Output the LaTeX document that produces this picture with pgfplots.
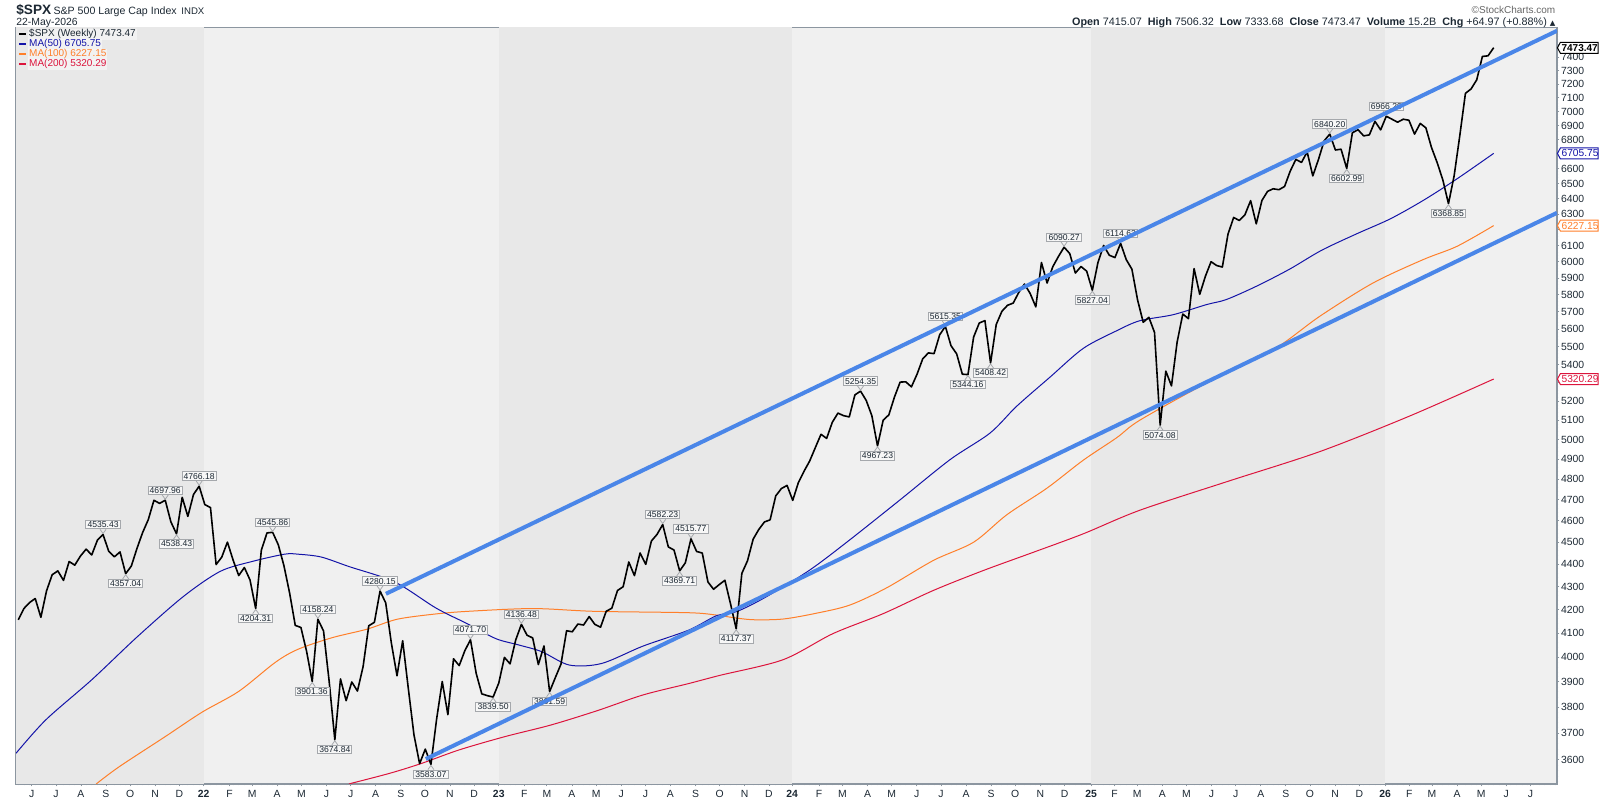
\documentclass[border=0pt]{standalone}
\usepackage{pgfplots}
\pgfplotsset{compat=1.18}
\usepackage{fontspec}
\setmainfont{Liberation Sans}
\newfontfamily\dejavu{DejaVu Sans}
\definecolor{bandD}{HTML}{E8E8E8}
\definecolor{bandL}{HTML}{F0F0F0}
\definecolor{frame}{HTML}{8C96A0}
\definecolor{ma50}{RGB}{20,20,168}
\definecolor{ma100}{RGB}{255,127,42}
\definecolor{ma200}{RGB}{220,20,60}
\definecolor{trend}{RGB}{74,134,232}
\definecolor{txt}{HTML}{1C2833}
\definecolor{lblb}{HTML}{A5A8AC}
\definecolor{lblf}{HTML}{F7F7F7}
\newcommand{\fs}[1]{\fontsize{#1}{#1}\selectfont}
\tikzset{lbl/.style={draw=lblb, fill=lblf, line width=0.5pt, inner xsep=0.8pt, inner ysep=0.6pt, font=\fs{4.3}, text=txt}}
\newcommand{\pk}[3]{\node[lbl,anchor=south] (L) at ([yshift=2.6pt]axis cs:#1,#2) {#3};
 \draw[lblb,line width=0.4pt] ([xshift=-1.5pt]L.south) -- ([yshift=0.5pt]axis cs:#1,#2) -- ([xshift=1.5pt]L.south);}
\newcommand{\tr}[3]{\node[lbl,anchor=north] (L) at ([yshift=-2.6pt]axis cs:#1,#2) {#3};
 \draw[lblb,line width=0.4pt] ([xshift=-1.5pt]L.north) -- ([yshift=-0.5pt]axis cs:#1,#2) -- ([xshift=1.5pt]L.north);}
\newcommand{\vtag}[4]{%
 \draw[#2, fill=white, line width=0.5pt] ([xshift=0.2pt]#1) -- ++(1.5pt,2.75pt) -- ++(18.8pt,0) -- ++(0,-5.5pt) -- ++(-18.8pt,0) -- cycle;
 \node[anchor=west, inner sep=0pt, text=#2, font=#4] at ([xshift=2.1pt]#1) {#3};}
\begin{document}
\begin{tikzpicture}
\useasboundingbox (-8pt,-8pt) rectangle (792pt,392pt);
\begin{axis}[
 at={(0pt,0pt)}, anchor=south west,
 scale only axis, width=770.5pt, height=378pt,
 xmin=19.6, xmax=292.2, ymin=3512, ymax=7628,
 ymode=log,
 axis line style={draw=frame, line width=0.6pt},
 axis background/.style={fill=bandL},
 xtick pos=left, ytick pos=right, yticklabel pos=right,
 tick align=outside,
 major tick length=1.2pt, minor tick length=0.7pt,
 tick style={draw=frame, line width=0.4pt},
 xtick={22.37,26.66,31.09,35.51,39.8,44.23,48.51,
 52.8,57.37,61.37,65.8,70.09,74.51,78.8,83.23,87.66,91.94,96.37,100.66,
 105.0,109.51,113.51,117.94,122.23,126.66,130.94,135.37,139.8,144.09,148.51,152.8,
 156.9,161.66,165.8,170.23,174.51,178.94,183.23,187.66,192.09,196.37,200.8,205.09,
 209.8,213.94,217.94,222.37,226.66,231.09,235.37,239.8,244.23,248.51,252.94,257.23,
 261.8,266.09,270.09,274.51,278.8,283.23,287.51},
 xticklabels={J,J,A,S,O,N,D,
 \textbf{22},F,M,A,M,J,J,A,S,O,N,D,
 \textbf{23},F,M,A,M,J,J,A,S,O,N,D,
 \textbf{24},F,M,A,M,J,J,A,S,O,N,D,
 \textbf{25},F,M,A,M,J,J,A,S,O,N,D,
 \textbf{26},F,M,A,M,J,J},
 minor xtick={20,21,...,292},
 ytick={3600,3700,3800,3900,4000,4100,4200,4300,4400,4500,4600,4700,4800,4900,5000,5100,5200,5300,5400,5500,5600,5700,5800,5900,6000,6100,6200,6300,6400,6500,6600,6700,6800,6900,7000,7100,7200,7300,7400,7500},
 yticklabels={3600,3700,3800,3900,4000,4100,4200,4300,4400,4500,4600,4700,4800,4900,5000,5100,5200,{},5400,5500,5600,5700,5800,5900,6000,6100,{},6300,6400,6500,6600,{},6800,6900,7000,7100,7200,7300,7400,{}},
 minor ytick={3520,3540,...,7620},
 xticklabel style={font=\fs{5.2}, text=txt, inner sep=0pt, yshift=-1.6pt},
 yticklabel style={font=\fs{5.2}, text=txt, inner sep=0pt, anchor=west, xshift=0.6pt},
 clip=true,
]
% year bands
\addplot[draw=none, fill=bandD, forget plot] coordinates {(10,3400) (10,7800) (52.8,7800) (52.8,3400)} -- cycle;
\addplot[draw=none, fill=bandD, forget plot] coordinates {(105.0,3400) (105.0,7800) (156.9,7800) (156.9,3400)} -- cycle;
\addplot[draw=none, fill=bandD, forget plot] coordinates {(209.8,3400) (209.8,7800) (261.8,7800) (261.8,3400)} -- cycle;
% MA(200)
\addplot[ma200, line width=0.5pt, smooth, forget plot] coordinates {
(78.5,3512) (85.8,3551) (91.5,3588) (98,3637) (106.1,3687) (114.2,3731) (122.4,3786) (130.5,3848) (138.6,3893) (144.1,3926) (155.3,3990) (164.1,4097) (173,4182) (181.9,4283) (190.7,4371) (199.6,4454) (208.4,4539) (218.4,4650) (234,4790) (250.2,4938) (266,5120) (281,5320)};
% MA(100)
\addplot[ma100, line width=0.5pt, smooth, forget plot] coordinates {
(33.8,3512) (37.9,3575) (46,3687) (52.5,3780) (59,3862) (65.5,3979) (69.5,4032) (75.5,4080) (81.7,4116) (87,4158) (93.6,4180) (99.5,4192) (111,4204) (122,4192) (138.6,4186) (143.5,4176) (146.5,4165) (150,4156) (155.3,4159) (161.2,4184) (167.1,4219) (173.6,4294) (181.9,4417) (189,4500) (194.9,4629) (202,4757) (208.4,4895) (214.3,5009) (218.4,5100) (230.2,5298) (242,5482) (250.2,5673) (259.6,5870) (268.5,6013) (274.5,6096) (281,6227)};
% MA(50)
\addplot[ma50, line width=0.5pt, smooth, forget plot] coordinates {
(19.6,3624) (24.9,3751) (33,3908) (41.1,4085) (49.2,4256) (55.7,4367) (61.4,4412) (67.1,4445) (69.5,4445) (73.6,4432) (78.5,4389) (86.6,4320) (93.9,4206) (99.6,4137) (104.5,4076) (108.5,4050) (112.6,4022) (117.5,3968) (123.2,3974) (130.5,4045) (138.6,4112) (143.5,4173) (147.1,4191) (152.4,4256) (160.1,4375) (167.1,4511) (176,4700) (184.8,4897) (191.9,5033) (196.6,5173) (202.5,5330) (208.4,5490) (214.3,5590) (218.4,5648) (224.3,5683) (230.2,5742) (233.7,5772) (239,5851) (244.9,5955) (250.5,6070) (256.7,6174) (262.7,6270) (268.5,6389) (274.5,6533) (281,6706)};
% SPX weekly
\addplot[black, line width=0.8pt, line join=round, forget plot] coordinates {
(20,4155.86)(21,4204.11)(22,4229.89)(23,4247.44)(24,4166.45)(25,4280.70)(26,4352.34)(27,4369.55)(28,4327.16)(29,4411.79)(30,4395.26)(31,4436.52)(32,4468.00)(33,4441.67)(34,4509.37)(35,4535.43)(36,4458.58)(37,4432.99)(38,4455.48)(39,4357.04)(40,4391.34)(41,4471.37)(42,4544.90)(43,4605.38)(44,4697.53)(45,4682.85)(46,4697.96)(47,4594.62)(48,4538.43)(49,4712.02)(50,4620.64)(51,4725.79)(52,4766.18)
(53,4677.03)(54,4662.85)(55,4397.94)(56,4431.85)(57,4500.53)(58,4418.64)(59,4348.87)(60,4384.65)(61,4328.87)(62,4204.31)(63,4463.12)(64,4543.06)(65,4545.86)(66,4488.28)(67,4392.59)(68,4271.78)(69,4131.93)(70,4123.34)(71,4023.89)(72,3901.36)(73,4158.24)(74,4108.54)(75,3900.86)(76,3674.84)(77,3911.74)(78,3825.33)(79,3899.38)(80,3863.16)(81,3961.63)(82,4130.29)(83,4145.19)(84,4280.15)(85,4228.48)(86,4057.66)(87,3924.26)(88,4067.36)(89,3873.33)(90,3693.23)(91,3585.62)(92,3639.66)(93,3583.07)(94,3752.75)(95,3901.06)(96,3770.55)(97,3992.93)(98,3965.34)(99,4026.12)(100,4071.70)(101,3934.38)(102,3852.36)(103,3844.82)(104,3839.50)
(105,3895.08)(106,3999.09)(107,3972.61)(108,4070.56)(109,4136.48)(110,4090.46)(111,4079.09)(112,3970.04)(113,4045.64)(114,3861.59)(115,3916.64)(116,3970.99)(117,4109.31)(118,4105.02)(119,4137.64)(120,4133.52)(121,4169.48)(122,4136.25)(123,4124.08)(124,4191.98)(125,4205.45)(126,4282.37)(127,4298.86)(128,4409.59)(129,4348.33)(130,4450.38)(131,4398.95)(132,4505.42)(133,4536.34)(134,4582.23)(135,4478.03)(136,4464.05)(137,4369.71)(138,4405.71)(139,4515.77)(140,4457.49)(141,4450.32)(142,4320.06)(143,4288.05)(144,4308.50)(145,4327.78)(146,4224.16)(147,4117.37)(148,4358.34)(149,4415.24)(150,4514.02)(151,4559.34)(152,4594.63)(153,4604.37)(154,4719.19)(155,4754.63)(156,4769.83)
(157,4697.24)(158,4783.83)(159,4839.81)(160,4890.97)(161,4958.61)(162,5026.61)(163,5005.57)(164,5088.80)(165,5137.08)(166,5123.69)(167,5117.09)(168,5234.18)(169,5254.35)(170,5204.34)(171,5123.41)(172,4967.23)(173,5099.96)(174,5127.79)(175,5222.68)(176,5303.27)(177,5304.72)(178,5277.51)(179,5346.99)(180,5431.60)(181,5464.62)(182,5460.48)(183,5567.19)(184,5615.35)(185,5505.00)(186,5459.10)(187,5346.56)(188,5344.16)(189,5554.25)(190,5634.61)(191,5648.40)(192,5408.42)(193,5626.02)(194,5702.55)(195,5738.17)(196,5751.07)(197,5815.03)(198,5864.67)(199,5808.12)(200,5728.80)(201,5995.54)(202,5870.62)(203,5969.34)(204,6032.38)(205,6090.27)(206,6051.09)(207,5930.85)(208,5970.84)
(209,5942.47)(210,5827.04)(211,5996.66)(212,6101.24)(213,6040.53)(214,6025.99)(215,6114.63)(216,6013.13)(217,5954.50)(218,5770.20)(219,5638.94)(220,5667.56)(221,5580.94)(222,5074.08)(223,5363.36)(224,5282.70)(225,5525.21)(226,5686.67)(227,5659.91)(228,5958.38)(229,5802.82)(230,5911.69)(231,6000.36)(232,5976.97)(233,5967.84)(234,6173.07)(235,6279.35)(236,6259.75)(237,6296.79)(238,6388.64)(239,6238.01)(240,6389.45)(241,6449.80)(242,6466.91)(243,6460.26)(244,6481.50)(245,6584.29)(246,6664.36)(247,6643.70)(248,6715.79)(249,6552.51)(250,6664.01)(251,6791.69)(252,6840.20)(253,6728.80)(254,6734.11)(255,6602.99)(256,6849.09)(257,6870.40)(258,6827.41)(259,6834.50)(260,6929.94)
(261,6869)(262,6966.29)(263,6945)(264,6924)(265,6945)(266,6938)(267,6840)(268,6915)(269,6884)(270,6746)(271,6643)(272,6526)(273,6368.85)(274,6553)(275,6828)(276,7132)(277,7164)(278,7232)(279,7407)(280,7412)(281,7473.47)};
% peak labels
\pk{35}{4535.43}{4535.43}
\pk{46}{4697.96}{4697.96}
\pk{52}{4766.18}{4766.18}
\pk{65}{4545.86}{4545.86}
\pk{73}{4158.24}{4158.24}
\pk{84}{4280.15}{4280.15}
\pk{100}{4071.70}{4071.70}
\pk{109}{4136.48}{4136.48}
\pk{134}{4582.23}{4582.23}
\pk{139}{4515.77}{4515.77}
\pk{169}{5254.35}{5254.35}
\pk{184}{5615.35}{5615.35}
\pk{205}{6090.27}{6090.27}
\pk{215}{6114.63}{6114.63}
\pk{252}{6840.20}{6840.20}
\pk{262}{6966.29}{6966.29}
% trough labels
\tr{39}{4357.04}{4357.04}
\tr{48}{4538.43}{4538.43}
\tr{62}{4204.31}{4204.31}
\tr{72}{3901.36}{3901.36}
\tr{76}{3674.84}{3674.84}
\tr{93}{3583.07}{3583.07}
\tr{104}{3839.50}{3839.50}
\tr{114}{3861.59}{3861.59}
\tr{137}{4369.71}{4369.71}
\tr{147}{4117.37}{4117.37}
\tr{172}{4967.23}{4967.23}
\tr{188}{5344.16}{5344.16}
\tr{192}{5408.42}{5408.42}
\tr{210}{5827.04}{5827.04}
\tr{222}{5074.08}{5074.08}
\tr{255}{6602.99}{6602.99}
\tr{273}{6368.85}{6368.85}
% trend channel
\addplot[trend, line width=2pt, forget plot] coordinates {(85.04,4268) (292.2,7604)};
\addplot[trend, line width=2pt, forget plot] coordinates {(92.1,3603) (292.2,6309)};
% tag anchors
\coordinate (tA) at (axis cs:292.2,7473.47);
\coordinate (tB) at (axis cs:292.2,6705.75);
\coordinate (tC) at (axis cs:292.2,6227.15);
\coordinate (tD) at (axis cs:292.2,5320.29);
\end{axis}
% right value tags
\vtag{tA}{black}{7473.47}{\bfseries\fs{5}}
\vtag{tB}{ma50}{6705.75}{\fs{5.1}}
\vtag{tC}{ma100}{6227.15}{\fs{5.1}}
\vtag{tD}{ma200}{5320.29}{\fs{5.1}}
% legend
\node[anchor=base west, inner sep=0.4pt, fill=white, fill opacity=0.45, text opacity=1, font=\fs{5}, text=txt] at (6pt,373.5pt) {\$SPX (Weekly) 7473.47};
\node[anchor=base west, inner sep=0.4pt, fill=white, fill opacity=0.45, text opacity=1, font=\fs{5}, text=ma50] at (6pt,368.5pt) {MA(50) 6705.75};
\node[anchor=base west, inner sep=0.4pt, fill=white, fill opacity=0.45, text opacity=1, font=\fs{5}, text=ma100] at (6pt,363.5pt) {MA(100) 6227.15};
\node[anchor=base west, inner sep=0.4pt, fill=white, fill opacity=0.45, text opacity=1, font=\fs{5}, text=ma200] at (6pt,358.5pt) {MA(200) 5320.29};
\draw[black, line width=1pt] (1.6pt,375.2pt) -- (5.2pt,375.2pt);
\draw[ma50, line width=1pt] (1.6pt,370.2pt) -- (5.2pt,370.2pt);
\draw[ma100, line width=1pt] (1.6pt,365.2pt) -- (5.2pt,365.2pt);
\draw[ma200, line width=1pt] (1.6pt,360.2pt) -- (5.2pt,360.2pt);
% title
\node[anchor=base west, inner sep=0pt, font=\bfseries\fs{6.8}, text=txt] at (0pt,384.5pt) {\$SPX};
\node[anchor=base west, inner sep=0pt, font=\fs{5.3}, text=txt] at (18.6pt,384.8pt) {S\&P 500 Large Cap Index};
\node[anchor=base west, inner sep=0pt, font=\fs{4.8}, text=txt] at (82.5pt,384.8pt) {INDX};
\node[anchor=base west, inner sep=0pt, font=\fs{5.2}, text=txt] at (0pt,379.2pt) {22-May-2026};
\node[anchor=base east, inner sep=0pt, font=\fs{5}, text=black!60] at (769.8pt,385pt) {©StockCharts.com};
\node[anchor=base east, inner sep=0pt, font=\fs{5.4}, text=txt] at (769.9pt,379pt) {{\bfseries Open} 7415.07\hspace{3pt}{\bfseries High} 7506.32\hspace{3pt}{\bfseries Low} 7333.68\hspace{3pt}{\bfseries Close} 7473.47\hspace{3pt}{\bfseries Volume} 15.2B\hspace{3pt}{\bfseries Chg} +64.97 (+0.88\%) {\dejavu\fs{3.6}▲}};
\end{tikzpicture}
\end{document}
